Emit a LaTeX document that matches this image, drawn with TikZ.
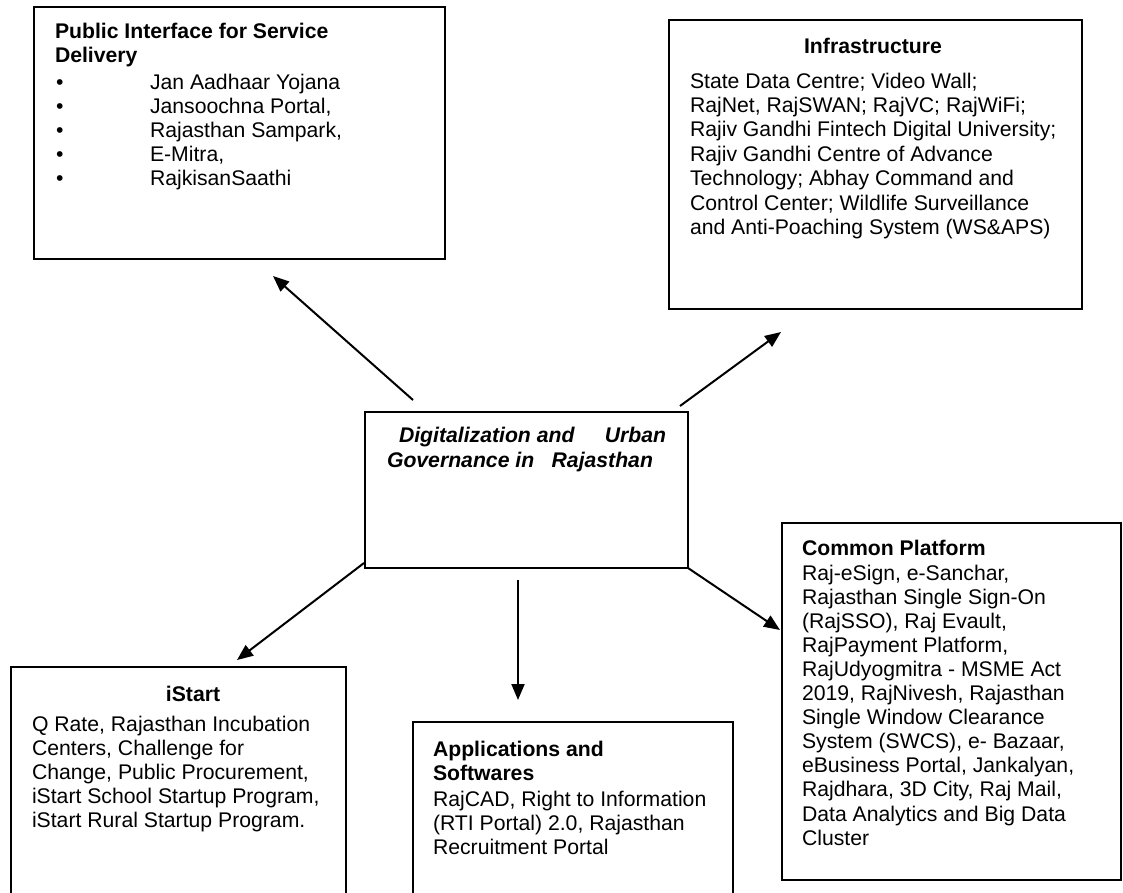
\documentclass[tikz,border=0pt]{standalone}
\usepackage{fontspec}
\setmainfont{Liberation Sans}
\usetikzlibrary{arrows.meta}
\begin{document}
\begin{tikzpicture}[x=1pt,y=-1pt,
  box/.style={draw, line width=1.5pt, inner sep=0pt, outer sep=0pt, anchor=north west},
  txt/.style={anchor=base west, inner sep=0pt, outer sep=0pt},
  arr/.style={line width=2pt, -{Triangle[length=16pt,width=13pt]}}]
\useasboundingbox (0,0) rectangle (1123,892);
\newcommand{\bodyfont}{\fontsize{21.2}{24.2}\selectfont}
% boxes
\node[box, minimum width=411pt, minimum height=252pt] (pub) at (34,7) {};
\node[box, minimum width=413pt, minimum height=289pt] (infra) at (669,20) {};
\node[box, minimum width=323pt, minimum height=156pt] (core) at (365,412) {};
\node[box, minimum width=339pt, minimum height=357pt] (common) at (782,523) {};
\node[box, minimum width=335pt, minimum height=240pt] (istart) at (11,667) {};
\node[box, minimum width=320pt, minimum height=200pt] (apps) at (413,722) {};
% public interface
\node[txt] (pubtitle) at (55,38) {\parbox[t]{380pt}{\bodyfont\bfseries Public Interface for Service\\Delivery}};
\node[txt] (pubbul) at (56,89) {\parbox[t]{20pt}{\bodyfont\textbullet\\\textbullet\\\textbullet\\\textbullet\\\textbullet}};
\node[txt] (publist) at (150,89) {\parbox[t]{280pt}{\bodyfont Jan Aadhaar Yojana\\Jansoochna Portal,\\Rajasthan Sampark,\\E-Mitra,\\RajkisanSaathi}};
% infrastructure
\node[anchor=base, inner sep=0pt] (infratitle) at (873,53) {\bodyfont\bfseries Infrastructure};
\node[txt] (infrabody) at (690,88) {\parbox[t]{390pt}{\fontsize{21.2}{24.4}\selectfont State Data Centre; Video Wall;\\RajNet, RajSWAN; RajVC; RajWiFi;\\Rajiv Gandhi Fintech Digital University;\\Rajiv Gandhi Centre of Advance\\Technology; Abhay Command and\\Control Center; Wildlife Surveillance\\and Anti-Poaching System (WS\&APS)}};
% core
\node[txt] (core1) at (399,442) {\bodyfont\bfseries\itshape\makebox[267pt][l]{Digitalization and\hfill Urban}};
\node[txt] (core2) at (387,467) {\bodyfont\bfseries\itshape\makebox[266pt][l]{Governance in\hfill Rajasthan}};
% common platform
\node[txt] (comtitle) at (802,555) {\bodyfont\bfseries Common Platform};
\node[txt] (combody) at (802,580) {\parbox[t]{310pt}{\fontsize{21.2}{24.1}\selectfont Raj-eSign, e-Sanchar,\\Rajasthan Single Sign-On\\(RajSSO), Raj Evault,\\RajPayment Platform,\\RajUdyogmitra - MSME Act\\2019, RajNivesh, Rajasthan\\Single Window Clearance\\System (SWCS), e- Bazaar,\\eBusiness Portal, Jankalyan,\\Rajdhara, 3D City, Raj Mail,\\Data Analytics and Big Data\\Cluster}};
% istart
\node[anchor=base, inner sep=0pt] (istitle) at (193,701) {\bodyfont\bfseries iStart};
\node[txt] (isbody) at (32,731) {\parbox[t]{310pt}{\bodyfont Q Rate, Rajasthan Incubation\\Centers, Challenge for\\Change, Public Procurement,\\iStart School Startup Program,\\iStart Rural Startup Program.}};
% apps
\node[txt] (apptitle) at (433,756) {\parbox[t]{290pt}{\bodyfont\bfseries Applications and\\Softwares}};
\node[txt] (appbody) at (433,806) {\parbox[t]{290pt}{\bodyfont RajCAD, Right to Information\\(RTI Portal) 2.0, Rajasthan\\Recruitment Portal}};
% arrows
\coordinate (a1s) at (413,400); \coordinate (a1e) at (273,276);
\coordinate (a2s) at (680,406); \coordinate (a2e) at (781,332);
\coordinate (a3s) at (364,563); \coordinate (a3e) at (237,660);
\coordinate (a4s) at (518,580); \coordinate (a4e) at (518,700);
\coordinate (a5s) at (core.south east); \coordinate (a5e) at (780,630);
\draw[arr] (a1s) -- (a1e);
\draw[arr] (a2s) -- (a2e);
\draw[arr] (a3s) -- (a3e);
\draw[arr] (a4s) -- (a4e);
\draw[arr] (a5s) -- (a5e);
\end{tikzpicture}
\end{document}
